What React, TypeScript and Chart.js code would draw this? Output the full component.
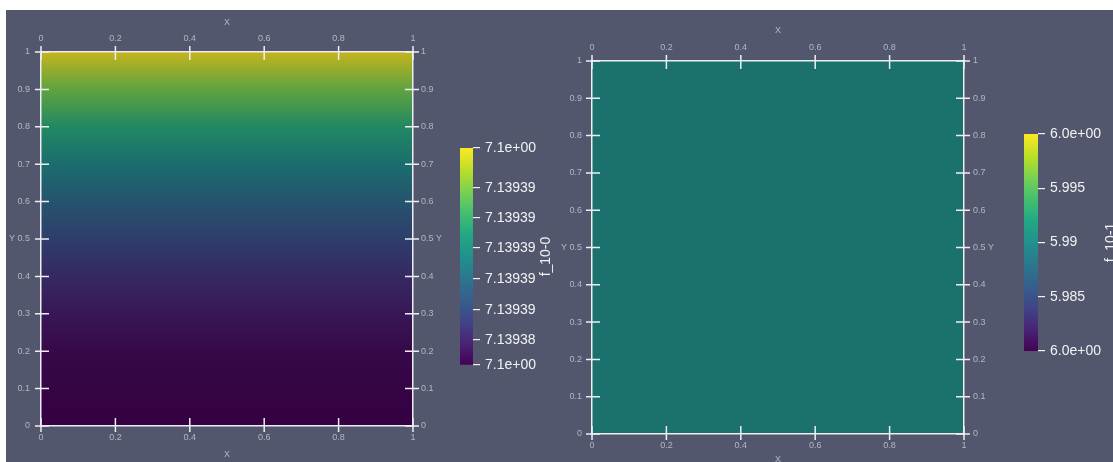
import React, { useEffect, useRef } from "react";
import { Chart, registerables } from "chart.js";

Chart.register(...registerables);

// ---------- data ----------
const xTickValues = [0, 0.2, 0.4, 0.6, 0.8, 1];
const yTickValues = [0, 0.1, 0.2, 0.3, 0.4, 0.5, 0.6, 0.7, 0.8, 0.9, 1];
const axisTitleX = "X";
const axisTitleY = "Y";

// left panel: field f_10-0, normalised colour level read at each height
const leftFieldY = [0, 0.1, 0.2, 0.3, 0.4, 0.5, 0.6, 0.7, 0.8, 0.9, 1];
const leftFieldLevel = [0, 0.01, 0.03, 0.08, 0.15, 0.24, 0.35, 0.48, 0.63, 0.8, 1];
const leftBarTitle = "f_10-0";
const leftBarTickPos = [1, 0.816, 0.677, 0.539, 0.396, 0.253, 0.115, 0];
const leftBarTickLabels = ["7.1e+00", "7.13939", "7.13939", "7.13939", "7.13939", "7.13939", "7.13938", "7.1e+00"];

// right panel: field f_10-1 (uniform)
const rightFieldY = [0, 1];
const rightFieldValue = [5.99, 5.99];
const rightRange = [5.98, 6.0];
const rightBarTitle = "f_10-1";
const rightBarTicks = [6.0, 5.995, 5.99, 5.985, 5.98];
const rightBarTickLabels = ["6.0e+00", "5.995", "5.99", "5.985", "6.0e+00"];

// ---------- style ----------
const BG = "#52576d";
const TICK_LABEL = "#b3b6c3";
const LINE = "#eeeef2";
const VIRIDIS = [
  [68, 1, 84], [72, 36, 117], [65, 68, 135], [53, 95, 141], [42, 120, 142],
  [33, 145, 140], [34, 168, 132], [68, 191, 112], [122, 209, 81], [189, 223, 38], [253, 231, 37],
];
const SHADE = 0.78;
const FONT = "'Liberation Sans', Arial, sans-serif";

function viridis(t: number, k = 1) {
  const c = Math.max(0, Math.min(1, t)) * (VIRIDIS.length - 1);
  const i = Math.min(VIRIDIS.length - 2, Math.floor(c));
  const f = c - i;
  const a = VIRIDIS[i], b = VIRIDIS[i + 1];
  const ch = (j: number) => Math.round((a[j] + (b[j] - a[j]) * f) * k);
  return `rgb(${ch(0)},${ch(1)},${ch(2)})`;
}

const fmt = (v: number) => String(v);

type PanelOpts = {
  fieldY: number[];
  fieldLevel: number[];
  top: number; bottom: number; left: number; right: number;
  titleTopPad: number; titleBottomPad: number;
  leftPad: number; rightPad: number;
};

const crossPlugin = {
  id: "crosses",
  afterDraw(chart: any) {
    const { ctx, chartArea: a, scales } = chart;
    const IN = 8, OUT = 6;
    ctx.save();
    ctx.strokeStyle = LINE;
    ctx.lineWidth = 1.5;
    ctx.beginPath();
    for (const t of scales.x.ticks) {
      const px = scales.x.getPixelForValue(t.value);
      ctx.moveTo(px, a.bottom - IN); ctx.lineTo(px, a.bottom + OUT);
      ctx.moveTo(px, a.top - OUT); ctx.lineTo(px, a.top + IN);
    }
    for (const t of scales.y.ticks) {
      const py = scales.y.getPixelForValue(t.value);
      ctx.moveTo(a.left - OUT, py); ctx.lineTo(a.left + IN, py);
      ctx.moveTo(a.right - IN, py); ctx.lineTo(a.right + OUT, py);
    }
    ctx.stroke();
    ctx.restore();
  },
};

function axisBase(values: number[]) {
  return {
    type: "linear" as const,
    min: 0,
    max: 1,
    afterBuildTicks: (s: any) => { s.ticks = values.map((v) => ({ value: v })); },
    grid: { display: true, drawOnChartArea: false, drawTicks: false },
    border: { display: true, color: LINE, width: 1.5, z: 1 },
  };
}

function fieldConfig(o: PanelOpts): any {
  const tickFont = { family: FONT, size: 9 };
  return {
    type: "line",
    data: {
      datasets: [
        {
          data: [{ x: 0, y: 1 }, { x: 1, y: 1 }],
          fill: "origin",
          borderWidth: 0,
          borderColor: "rgba(0,0,0,0)",
          pointRadius: 0,
          backgroundColor: (c: any) => {
            const chart = c.chart;
            if (!chart.chartArea) return "rgba(0,0,0,0)";
            const y = chart.scales.y;
            const p0 = y.getPixelForValue(0), p1 = y.getPixelForValue(1);
            const g = chart.ctx.createLinearGradient(0, p0, 0, p1);
            o.fieldY.forEach((v, i) => {
              g.addColorStop((y.getPixelForValue(v) - p0) / (p1 - p0), viridis(o.fieldLevel[i], SHADE));
            });
            return g;
          },
        },
      ],
    },
    options: {
      responsive: false,
      animation: false,
      devicePixelRatio: 1,
      events: [],
      layout: { padding: 0 },
      plugins: { legend: { display: false }, tooltip: { enabled: false } },
      scales: {
        x: {
          ...axisBase(xTickValues),
          position: "bottom",
          ticks: { font: tickFont, color: TICK_LABEL, padding: 6, autoSkip: false, maxRotation: 0, callback: (v: number) => fmt(v) },
          title: { display: true, text: axisTitleX, color: TICK_LABEL, font: { family: FONT, size: 9 }, padding: { top: 0, bottom: o.titleBottomPad } },
          afterFit: (s: any) => { s.height = o.bottom; },
        },
        x2: {
          ...axisBase(xTickValues),
          position: "top",
          ticks: { font: tickFont, color: TICK_LABEL, padding: 8, autoSkip: false, maxRotation: 0, callback: (v: number) => fmt(v) },
          title: { display: true, text: axisTitleX, color: TICK_LABEL, font: { family: FONT, size: 9 }, padding: { top: o.titleTopPad, bottom: 0 } },
          afterFit: (s: any) => { s.height = o.top; },
        },
        y: {
          ...axisBase(yTickValues),
          position: "left",
          ticks: { font: tickFont, color: TICK_LABEL, padding: o.leftPad, autoSkip: false, callback: (v: number) => (v === 0.5 ? `${axisTitleY} ${fmt(v)}` : fmt(v)) },
          afterFit: (s: any) => { s.width = o.left; },
        },
        y2: {
          ...axisBase(yTickValues),
          position: "right",
          ticks: { font: tickFont, color: TICK_LABEL, padding: o.rightPad, autoSkip: false, callback: (v: number) => (v === 0.5 ? `${fmt(v)} ${axisTitleY}` : fmt(v)) },
          afterFit: (s: any) => { s.width = o.right; },
        },
      },
    },
    plugins: [crossPlugin],
  };
}

type BarOpts = {
  min: number; max: number;
  tickValues: number[]; tickLabels: string[];
  title: string;
  pad: { left: number; top: number; bottom: number; right: number };
  axisWidth: number;
};

function barConfig(o: BarOpts): any {
  const titlePlugin = {
    id: "barTitle",
    afterDraw(chart: any) {
      const { ctx, chartArea: a } = chart;
      ctx.save();
      ctx.translate(a.right + 73, (a.top + a.bottom) / 2);
      ctx.rotate(-Math.PI / 2);
      ctx.fillStyle = "#f2f2f2";
      ctx.font = `14px ${FONT}`;
      ctx.textAlign = "center";
      ctx.textBaseline = "middle";
      ctx.fillText(o.title, 0, 0);
      ctx.restore();
    },
  };
  return {
    type: "bar",
    data: {
      labels: [o.title],
      datasets: [
        {
          data: [[o.min, o.max]],
          barPercentage: 1,
          categoryPercentage: 1,
          borderWidth: 0,
          backgroundColor: (c: any) => {
            const chart = c.chart;
            if (!chart.chartArea) return "rgba(0,0,0,0)";
            const y = chart.scales.y;
            const g = chart.ctx.createLinearGradient(0, y.getPixelForValue(o.min), 0, y.getPixelForValue(o.max));
            VIRIDIS.forEach((_, i) => g.addColorStop(i / (VIRIDIS.length - 1), viridis(i / (VIRIDIS.length - 1))));
            return g;
          },
        },
      ],
    },
    options: {
      responsive: false,
      animation: false,
      devicePixelRatio: 1,
      events: [],
      layout: { padding: o.pad },
      plugins: { legend: { display: false }, tooltip: { enabled: false } },
      scales: {
        x: { type: "category", display: false },
        y: {
          type: "linear",
          position: "right",
          min: o.min,
          max: o.max,
          afterBuildTicks: (s: any) => { s.ticks = o.tickValues.map((v) => ({ value: v })); },
          ticks: {
            autoSkip: false,
            color: "#f2f2f2",
            font: { family: FONT, size: 14 },
            padding: 5,
            callback: (_v: number, i: number) => o.tickLabels[i],
          },
          grid: { display: true, drawOnChartArea: false, drawTicks: true, tickLength: 7, color: "#f2f2f2", lineWidth: 1.2 },
          border: { display: false },
          afterFit: (s: any) => { s.width = o.axisWidth; },
        },
      },
    },
    plugins: [titlePlugin],
  };
}

function ChartCanvas({ config, left, top, width, height }: { config: any; left: number; top: number; width: number; height: number }) {
  const ref = useRef<HTMLCanvasElement | null>(null);
  useEffect(() => {
    if (!ref.current) return;
    const chart = new Chart(ref.current, config);
    return () => chart.destroy();
  }, [config]);
  return (
    <canvas
      ref={ref}
      width={width}
      height={height}
      style={{ position: "absolute", left, top, width, height, display: "block" }}
    />
  );
}

const rightLevel = rightFieldValue.map((v) => (v - rightRange[0]) / (rightRange[1] - rightRange[0]));

const leftField = fieldConfig({
  fieldY: leftFieldY, fieldLevel: leftFieldLevel,
  top: 42, bottom: 36, left: 35, right: 133,
  titleTopPad: 7, titleBottomPad: 2, leftPad: 11, rightPad: 8,
});
const rightField = fieldConfig({
  fieldY: rightFieldY, fieldLevel: rightLevel,
  top: 51, bottom: 36, left: 32, right: 149,
  titleTopPad: 15, titleBottomPad: 5, leftPad: 10, rightPad: 9,
});
const leftBar = barConfig({
  min: 0, max: 1, tickValues: leftBarTickPos, tickLabels: leftBarTickLabels, title: leftBarTitle,
  pad: { left: 20, top: 18, bottom: 25, right: 0 }, axisWidth: 87,
});
const rightBar = barConfig({
  min: rightRange[0], max: rightRange[1], tickValues: rightBarTicks, tickLabels: rightBarTickLabels, title: rightBarTitle,
  pad: { left: 24, top: 24, bottom: 19, right: 0 }, axisWidth: 82,
});

export default function App() {
  return (
    <div style={{ position: "fixed", left: 0, top: 0, width: 1113, height: 462, background: "#ffffff", overflow: "hidden" }}>
      <div style={{ position: "absolute", left: 6, top: 10, right: 0, bottom: 0, background: BG }} />
      <ChartCanvas config={leftField} left={6} top={10} width={540} height={452} />
      <ChartCanvas config={rightField} left={560} top={10} width={553} height={460} />
      <ChartCanvas config={leftBar} left={440} top={130} width={120} height={260} />
      <ChartCanvas config={rightBar} left={1000} top={110} width={120} height={260} />
    </div>
  );
}
